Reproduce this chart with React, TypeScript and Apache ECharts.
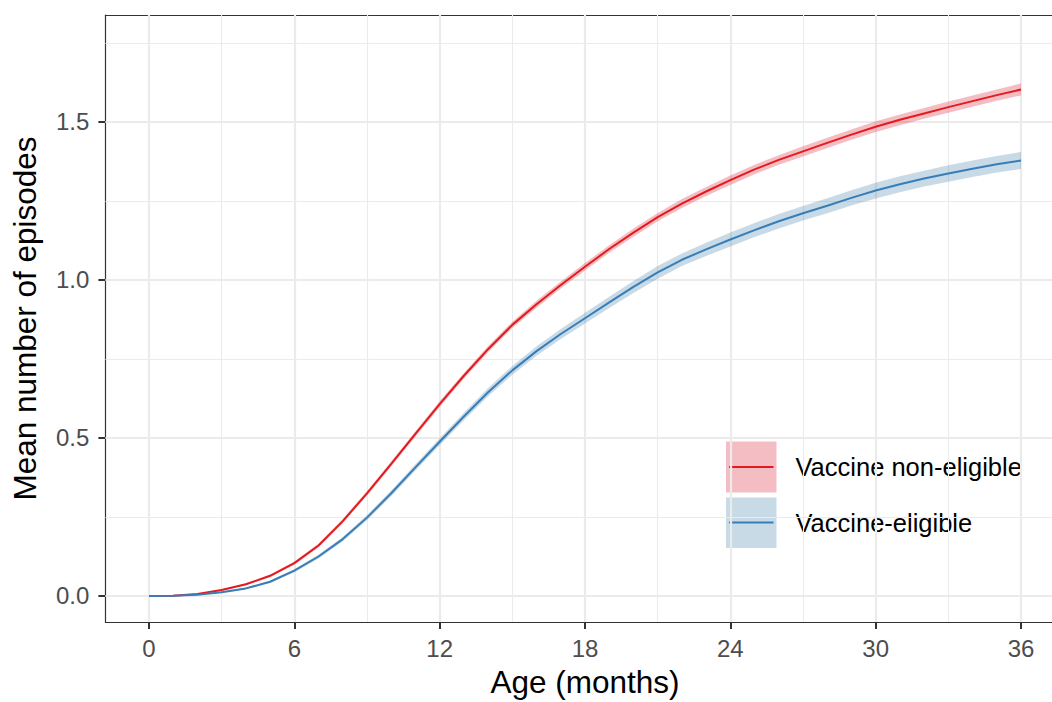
import React, { useEffect, useRef } from "react";
import * as echarts from "echarts";

// Age in months at which the cumulative mean is reported
const months = [
  0, 1, 2, 3, 4, 5, 6, 7, 8, 9, 10, 11, 12, 13, 14, 15, 16, 17, 18,
  19, 20, 21, 22, 23, 24, 25, 26, 27, 28, 29, 30, 31, 32, 33, 34, 35, 36,
];

// Vaccine non-eligible: mean cumulative episodes and half-width of the band
const nonEligibleMean = [
  0, 0.001, 0.006, 0.019, 0.037, 0.064, 0.104, 0.16, 0.237, 0.325, 0.418,
  0.513, 0.607, 0.697, 0.781, 0.858, 0.923, 0.984, 1.042, 1.098, 1.15, 1.199,
  1.242, 1.28, 1.316, 1.35, 1.38, 1.407, 1.434, 1.46, 1.485, 1.507, 1.527,
  1.547, 1.566, 1.585, 1.603,
];
const nonEligibleHalfWidth = [
  0, 0, 0.001, 0.002, 0.003, 0.004, 0.005, 0.006, 0.007, 0.007, 0.008,
  0.008, 0.009, 0.009, 0.01, 0.01, 0.011, 0.011, 0.012, 0.012, 0.013, 0.013,
  0.014, 0.014, 0.015, 0.015, 0.015, 0.016, 0.016, 0.016, 0.017, 0.017,
  0.017, 0.018, 0.018, 0.018, 0.019,
];

// Vaccine-eligible: mean cumulative episodes and half-width of the band
const eligibleMean = [
  0, 0.0005, 0.004, 0.012, 0.024, 0.045, 0.08, 0.125, 0.18, 0.248, 0.325,
  0.407, 0.488, 0.568, 0.645, 0.714, 0.775, 0.829, 0.879, 0.929, 0.978, 1.024,
  1.064, 1.097, 1.128, 1.158, 1.186, 1.211, 1.235, 1.26, 1.283, 1.303, 1.321,
  1.337, 1.352, 1.366, 1.378,
];
const eligibleHalfWidth = [
  0, 0, 0.001, 0.002, 0.003, 0.004, 0.005, 0.006, 0.007, 0.008, 0.009, 0.01,
  0.011, 0.012, 0.013, 0.014, 0.015, 0.016, 0.017, 0.018, 0.019, 0.02, 0.02,
  0.021, 0.022, 0.022, 0.023, 0.023, 0.024, 0.024, 0.025, 0.025, 0.025,
  0.026, 0.026, 0.026, 0.027,
];

const xMajor = [0, 6, 12, 18, 24, 30, 36];
const xMinor = [3, 9, 15, 21, 27, 33];
const yMajor = [0, 0.5, 1.0, 1.5];
const yMinor = [0.25, 0.75, 1.25, 1.75];

const legendLabels = ["Vaccine non-eligible", "Vaccine-eligible"];
const xTitle = "Age (months)";
const yTitle = "Mean number of episodes";

const RED = "#E41A1C";
const BLUE = "#377EB8";
const RED_FILL = "rgba(218,35,55,0.3)";
const BLUE_FILL = "rgba(72,132,172,0.3)";
const GRID = "#EBEBEB";
const INK = "#333333";
const FONT = "Liberation Sans, Arial, Helvetica, sans-serif";

function pairs(ys: number[]) {
  return months.map((m, i) => [m, ys[i]]);
}

// Confidence band drawn as one closed polygon through the axis scales
function ribbonSeries(mean: number[], half: number[], fill: string) {
  const lower = mean.map((v, i) => v - half[i]);
  const upper = mean.map((v, i) => v + half[i]);
  return {
    type: "custom",
    silent: true,
    z: 2,
    data: months.map((m, i) => [m, lower[i], upper[i]]),
    encode: { x: 0, y: [1, 2] },
    renderItem: (params: any, api: any) => {
      if (params.dataIndex !== 0) return null;
      const pts: number[][] = [];
      for (let i = 0; i < months.length; i++) pts.push(api.coord([months[i], upper[i]]));
      for (let i = months.length - 1; i >= 0; i--) pts.push(api.coord([months[i], lower[i]]));
      return { type: "polygon", shape: { points: pts }, style: { fill, stroke: null } };
    },
  };
}

export default function App() {
  const ref = useRef<HTMLDivElement>(null);

  useEffect(() => {
    if (!ref.current) return;
    const chart = echarts.init(ref.current, null, { renderer: "svg" });

    const gridLines = [
      ...xMajor.map((v) => ({ xAxis: v, lineStyle: { width: 2.2 } })),
      ...xMinor.map((v) => ({ xAxis: v, lineStyle: { width: 1.1 } })),
      ...yMajor.map((v) => ({ yAxis: v, lineStyle: { width: 2.2 } })),
      ...yMinor.map((v) => ({ yAxis: v, lineStyle: { width: 1.1 } })),
    ];

    const axisLabelStyle = {
      color: "#4D4D4D",
      fontSize: 24,
      fontFamily: FONT,
    };

    chart.setOption({
      animation: false,
      backgroundColor: "#FFFFFF",
      grid: { left: 105.4, right: 0, top: 15, bottom: 80, containLabel: false },
      xAxis: [
        {
          type: "value",
          min: -1.8,
          max: 37.28,
          axisLine: { show: true, onZero: false, lineStyle: { color: INK, width: 1.2 } },
          axisTick: {
            show: true,
            customValues: xMajor,
            length: 7,
            lineStyle: { color: INK, width: 2 },
          },
          axisLabel: {
            ...axisLabelStyle,
            customValues: xMajor,
            margin: 14,
            formatter: (v: number) => String(v),
          },
          splitLine: { show: false },
        },
        {
          type: "value",
          position: "top",
          min: -1.8,
          max: 37.28,
          axisLine: { show: true, onZero: false, lineStyle: { color: INK, width: 1.2 } },
          axisTick: { show: false },
          axisLabel: { show: false },
          splitLine: { show: false },
        },
      ],
      yAxis: {
        type: "value",
        min: -0.0823,
        max: 1.8386,
        name: yTitle,
        nameLocation: "middle",
        nameGap: 64,
        nameTextStyle: { color: "#000000", fontSize: 31.5, fontFamily: FONT },
        axisLine: { show: true, onZero: false, lineStyle: { color: INK, width: 1.2 } },
        axisTick: {
          show: true,
          customValues: yMajor,
          length: 7,
          lineStyle: { color: INK, width: 2 },
        },
        axisLabel: {
          ...axisLabelStyle,
          customValues: yMajor,
          margin: 16,
          formatter: (v: number) => v.toFixed(1),
        },
        splitLine: { show: false },
      },
      series: [
        ribbonSeries(nonEligibleMean, nonEligibleHalfWidth, RED_FILL),
        ribbonSeries(eligibleMean, eligibleHalfWidth, BLUE_FILL),
        {
          type: "line",
          name: legendLabels[0],
          data: pairs(nonEligibleMean),
          showSymbol: false,
          symbol: "none",
          lineStyle: { color: RED, width: 2 },
          z: 3,
          markLine: {
            silent: true,
            symbol: ["none", "none"],
            label: { show: false },
            animation: false,
            z: 1,
            lineStyle: { color: GRID, type: "solid" },
            data: gridLines,
          },
        },
        {
          type: "line",
          name: legendLabels[1],
          data: pairs(eligibleMean),
          showSymbol: false,
          symbol: "none",
          lineStyle: { color: BLUE, width: 2 },
          z: 3,
        },
      ],
      graphic: [
        {
          type: "text",
          x: 585,
          y: 666,
          style: {
            text: xTitle,
            fill: "#000000",
            fontSize: 31.5,
            fontFamily: FONT,
            align: "center",
            verticalAlign: "top",
          },
        },
        {
          type: "group",
          left: 726,
          top: 441.5,
          children: [
            { type: "rect", shape: { x: 0, y: 0, width: 50.5, height: 51 }, style: { fill: RED_FILL } },
            { type: "line", shape: { x1: 3, y1: 25.5, x2: 47.5, y2: 25.5 }, style: { stroke: RED, lineWidth: 2 } },
            { type: "rect", shape: { x: 0, y: 56, width: 50.5, height: 50.5 }, style: { fill: BLUE_FILL } },
            { type: "line", shape: { x1: 3, y1: 81, x2: 47.5, y2: 81 }, style: { stroke: BLUE, lineWidth: 2 } },
            {
              type: "text",
              x: 69.5,
              y: 25.5,
              style: {
                text: legendLabels[0],
                fill: "#000000",
                fontSize: 25.5,
                fontFamily: FONT,
                verticalAlign: "middle",
                align: "left",
              },
            },
            {
              type: "text",
              x: 69.5,
              y: 81,
              style: {
                text: legendLabels[1],
                fill: "#000000",
                fontSize: 25.5,
                fontFamily: FONT,
                verticalAlign: "middle",
                align: "left",
              },
            },
          ],
        },
      ],
    });

    return () => chart.dispose();
  }, []);

  return (
    <div
      ref={ref}
      style={{ position: "fixed", left: 0, top: 0, width: 1052, height: 702, background: "#fff" }}
    />
  );
}
